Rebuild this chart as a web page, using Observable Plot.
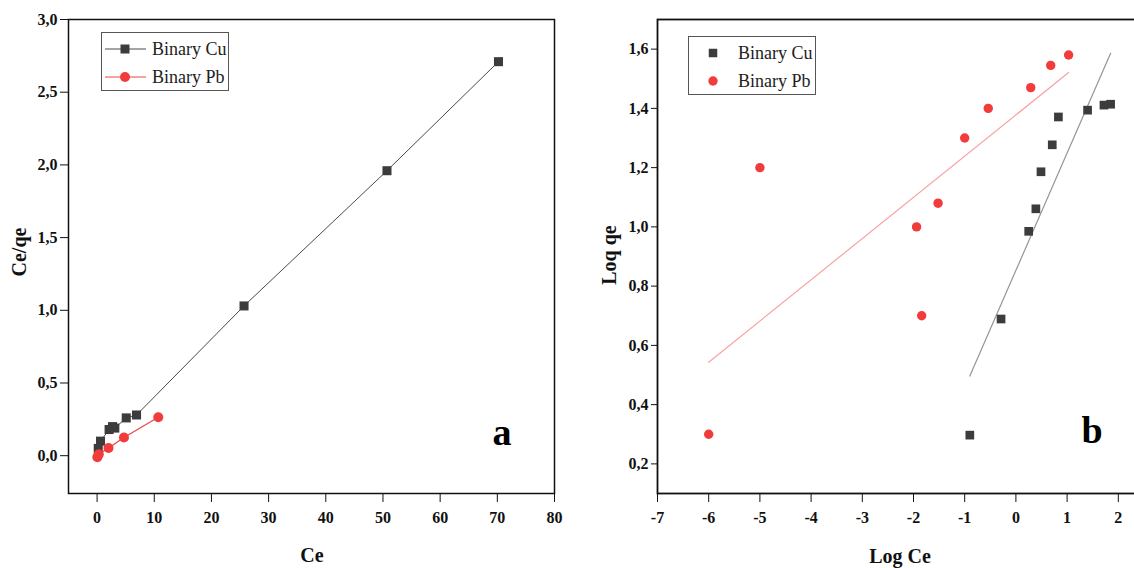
<!DOCTYPE html>
<html><head><meta charset="utf-8">
<script src="https://cdn.jsdelivr.net/npm/d3@7"></script>
<script src="https://cdn.jsdelivr.net/npm/@observablehq/plot@0.6"></script>
<style>
html,body{margin:0;padding:0;background:#fff;overflow:hidden;}
#wrap{position:relative;width:1134px;height:568px;overflow:hidden;font-family:"Liberation Serif","Times New Roman",serif;background:#fff;}
.panel{position:absolute;top:0;width:580px;height:568px;}
.panel svg{max-width:none !important;width:580px;height:568px;}
.panel svg text{font-weight:bold;}
.title{position:absolute;font-weight:bold;font-size:20px;color:#111;white-space:nowrap;transform:translate(-50%,-50%);}
.title.rot{transform:translate(-50%,-50%) rotate(-90deg);}
.legend{position:absolute;border:1px solid #555;background:#fff;box-sizing:border-box;}
.legend svg{position:absolute;left:0;top:0;}
.legend .lab{position:absolute;font-size:18px;color:#222;white-space:nowrap;transform:translateY(-50%);line-height:1;}
.tag{position:absolute;font-weight:bold;font-size:38px;color:#000;transform:translate(-50%,-50%);line-height:1;}
</style>
</head><body><div id="wrap"></div>
<script>
// ---- Panel a data (Ce vs Ce/qe) ----
const cuCe    = [0.2, 0.6, 2.1, 2.7, 3.1, 5.1, 6.9, 25.7, 50.7, 70.2];
const cuCeqe  = [0.05, 0.10, 0.18, 0.20, 0.19, 0.26, 0.28, 1.03, 1.96, 2.71];
const pbCe    = [0.05, 0.3, 2.0, 4.7, 10.7];
const pbCeqe  = [-0.01, 0.01, 0.053, 0.125, 0.265];
// ---- Panel b data (Log Ce vs Log qe) ----
const cuLogCe = [-0.90, -0.29, 0.25, 0.39, 0.49, 0.71, 0.83, 1.40, 1.72, 1.85];
const cuLogqe = [0.297, 0.689, 0.985, 1.061, 1.186, 1.277, 1.371, 1.394, 1.411, 1.414];
const pbLogCe = [-6.0, -5.0, -1.94, -1.84, -1.52, -1.0, -0.54, 0.29, 0.68, 1.03];
const pbLogqe = [0.30, 1.20, 1.00, 0.70, 1.08, 1.30, 1.40, 1.47, 1.545, 1.58];
// ---- Ticks ----
const ticksAx = [0, 10, 20, 30, 40, 50, 60, 70, 80];
const ticksAy = [0, 0.5, 1.0, 1.5, 2.0, 2.5, 3.0];
const ticksBx = [-7, -6, -5, -4, -3, -2, -1, 0, 1, 2];
const ticksBy = [0.2, 0.4, 0.6, 0.8, 1.0, 1.2, 1.4, 1.6];
const seriesNames = ["Binary Cu", "Binary Pb"];

const cuColor = "#3c3c3c", pbColor = "#f23b3b";
const pbLineA = "#e84545", cuLineA = "#4a4a4a";
const pbFit = "#f7a3a3", cuFit = "#959595";
const comma = d => d3.format(".1f")(d).replace(".", ",");
const zip = (xs, ys) => xs.map((x, i) => ({x, y: ys[i]}));

const cuA = zip(cuCe, cuCeqe), pbA = zip(pbCe, pbCeqe);
const cuB = zip(cuLogCe, cuLogqe), pbB = zip(pbLogCe, pbLogqe);
const baseStyle = {fontFamily: "'Liberation Serif', 'Times New Roman', serif", fontSize: "16px", color: "#111", background: "transparent", overflow: "visible", maxWidth: "none"};

const plotA = Plot.plot({
  width: 580, height: 568,
  marginLeft: 68, marginRight: 26, marginTop: 19, marginBottom: 75,
  style: baseStyle,
  x: {domain: [-5, 80]},
  y: {domain: [-0.26, 3.0]},
  marks: [
    Plot.axisX({ticks: ticksAx, tickSize: 9, tickPadding: 9, label: null, tickFormat: d => String(d)}),
    Plot.axisY({ticks: ticksAy, tickSize: 8, tickPadding: 3, label: null, tickFormat: comma}),
    Plot.line(cuA, {x: "x", y: "y", stroke: cuLineA, strokeWidth: 1}),
    Plot.line(pbA, {x: "x", y: "y", stroke: pbLineA, strokeWidth: 1.2}),
    Plot.dot(cuA, {x: "x", y: "y", symbol: "square", r: 5.1, fill: cuColor}),
    Plot.dot(pbA, {x: "x", y: "y", r: 5, fill: pbColor}),
    Plot.frame({stroke: "#111", strokeWidth: 1.5})
  ]
});

const plotB = Plot.plot({
  width: 580, height: 568,
  marginLeft: 77, marginRight: 16.6, marginTop: 19, marginBottom: 75,
  style: baseStyle,
  x: {domain: [-7, 2.5]},
  y: {domain: [0.1, 1.7]},
  marks: [
    Plot.axisX({ticks: ticksBx, tickSize: 9, tickPadding: 9, label: null, tickFormat: d => String(d)}),
    Plot.axisY({ticks: ticksBy, tickSize: 6, tickPadding: 3, label: null, tickFormat: comma}),
    Plot.linearRegressionY(pbB, {x: "x", y: "y", stroke: pbFit, strokeWidth: 1.2, ci: 0}),
    Plot.linearRegressionY(cuB, {x: "x", y: "y", stroke: cuFit, strokeWidth: 1.2, ci: 0}),
    Plot.dot(cuB, {x: "x", y: "y", symbol: "square", r: 4.9, fill: cuColor}),
    Plot.dot(pbB, {x: "x", y: "y", r: 4.7, fill: pbColor}),
    Plot.frame({stroke: "#111", strokeWidth: 1.8})
  ]
});

const wrap = document.getElementById("wrap");
function place(node, left) {
  const d = document.createElement("div");
  d.className = "panel"; d.style.left = left + "px";
  d.appendChild(node); wrap.appendChild(d);
}
place(plotA, 0);
place(plotB, 580);

function addText(cls, txt, x, y) {
  const d = document.createElement("div");
  d.className = cls; d.textContent = txt;
  d.style.left = x + "px"; d.style.top = y + "px";
  wrap.appendChild(d);
}
addText("title rot", "Ce/qe", 19, 252);
addText("title", "Ce", 312, 555);
addText("title rot", "Loq qe", 609, 255);
addText("title", "Log Ce", 900, 556);
addText("tag", "a", 502, 432);
addText("tag", "b", 1092, 430);

function legend(left, top, w, h, withLines) {
  const box = document.createElement("div");
  box.className = "legend";
  Object.assign(box.style, {left: left + "px", top: top + "px", width: w + "px", height: h + "px"});
  const ns = "http://www.w3.org/2000/svg";
  const svg = document.createElementNS(ns, "svg");
  svg.setAttribute("width", w); svg.setAttribute("height", h);
  const rows = [
    {name: seriesNames[0], color: cuColor, line: cuLineA, sym: "square", cy: 16},
    {name: seriesNames[1], color: pbColor, line: pbLineA, sym: "circle", cy: 44}
  ];
  const mx = withLines ? 23 : 24;
  rows.forEach(r => {
    if (withLines) {
      const l = document.createElementNS(ns, "line");
      l.setAttribute("x1", 3); l.setAttribute("x2", 44);
      l.setAttribute("y1", r.cy); l.setAttribute("y2", r.cy);
      l.setAttribute("stroke", r.line); l.setAttribute("stroke-width", 1);
      svg.appendChild(l);
    }
    let m;
    if (r.sym === "square") {
      m = document.createElementNS(ns, "rect");
      const s = withLines ? 9 : 8.5;
      m.setAttribute("x", mx - s / 2); m.setAttribute("y", r.cy - s / 2);
      m.setAttribute("width", s); m.setAttribute("height", s);
    } else {
      m = document.createElementNS(ns, "circle");
      m.setAttribute("cx", mx); m.setAttribute("cy", r.cy); m.setAttribute("r", withLines ? 5 : 4.7);
    }
    m.setAttribute("fill", r.color);
    svg.appendChild(m);
    const t = document.createElement("div");
    t.className = "lab"; t.textContent = r.name;
    t.style.left = (withLines ? 50 : 49) + "px"; t.style.top = r.cy + "px";
    box.appendChild(t);
  });
  box.insertBefore(svg, box.firstChild);
  wrap.appendChild(box);
}
legend(101, 32, 128, 59, true);
legend(688, 36, 128, 59, false);
</script>
</body></html>
